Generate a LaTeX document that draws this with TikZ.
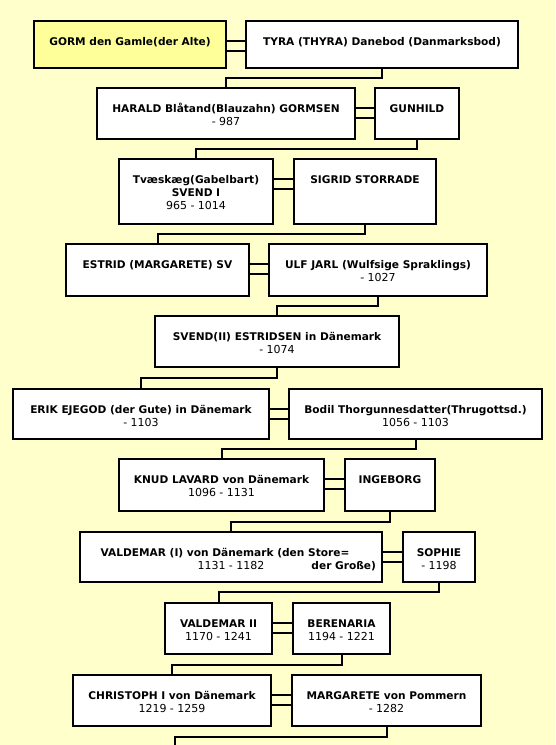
\documentclass[tikz,border=0pt]{standalone}
\usepackage{fontspec}
\setmainfont{DejaVu Sans}
\usetikzlibrary{positioning}
\definecolor{pagebg}{HTML}{FFFFCC}
\definecolor{rootfill}{HTML}{FFFF99}
\newcommand{\yrs}[1]{{\fontsize{11}{13}\selectfont\mdseries #1}}
\tikzset{
  person/.style 2 args={draw=black,line width=2pt,fill=white,align=center,
    inner xsep=2pt,inner ysep=0pt,text height=#1,text depth=#2,
    font=\fontsize{10.6}{13}\selectfont\bfseries},
  couple/.style={draw=black,line width=2pt,double=pagebg,double distance=8pt},
  descent/.style={draw=black,line width=2pt}
}

\begin{document}
\begin{tikzpicture}[x=1pt,y=-1pt,node distance=18pt]
\fill[pagebg] (0,0) rectangle (555,745);
\useasboundingbox (0,0) rectangle (555,745);
% generations, left partner placed by coordinates
\node[person={24pt}{23pt},fill=rootfill,minimum width=192pt,anchor=north west] (gorm) at (33,20) {GORM den Gamle(der Alte)};
\node[person={24pt}{23pt},minimum width=272pt,right=of gorm] (tyra) {TYRA (THYRA) Danebod (Danmarksbod)};
\node[person={37pt}{14pt},minimum width=258pt,anchor=north west] (harald) at (96,87) {HARALD Blåtand(Blauzahn) GORMSEN\\\yrs{- 987}};
\node[person={24pt}{27pt},minimum width=84pt,right=of harald] (gunhild) {GUNHILD};
\node[person={50pt}{15pt},minimum width=154pt,anchor=north west] (svend1) at (118,158) {Tvæskæg(Gabelbart)\\SVEND I\\\yrs{965 - 1014}};
\node[person={24pt}{41pt},minimum width=142pt,right=19pt of svend1] (sigrid) {SIGRID STORRADE};
\node[person={24pt}{28pt},minimum width=183pt,anchor=north west] (estrid) at (65,243) {ESTRID (MARGARETE) SV};
\node[person={37pt}{15pt},minimum width=218pt,right=of estrid] (ulf) {ULF JARL (Wulfsige Spraklings)\\\yrs{- 1027}};
\node[person={37pt}{14pt},minimum width=244pt,anchor=north west] (svend2) at (154,315) {SVEND(II) ESTRIDSEN in Dänemark\\\yrs{- 1074}};
\node[person={37pt}{13pt},minimum width=256pt,anchor=north west] (erik) at (12,388) {ERIK EJEGOD (der Gute) in Dänemark\\\yrs{- 1103}};
\node[person={37pt}{13pt},minimum width=253pt,right=of erik] (bodil) {Bodil Thorgunnesdatter(Thrugottsd.)\\\yrs{1056 - 1103}};
\node[person={37pt}{15pt},minimum width=205pt,anchor=north west] (knud) at (118,458) {KNUD LAVARD von Dänemark\\\yrs{1096 - 1131}};
\node[person={24pt}{28pt},minimum width=90pt,right=19pt of knud] (ingeborg) {INGEBORG};
\node[person={37pt}{13pt},minimum width=302pt,anchor=north west] (valdemar1) at (79,531) {VALDEMAR (I) von Dänemark (den Store=\hspace*{12pt}\\\yrs{1131 - 1182}\rlap{\hspace{47pt}der Große)}};
\node[person={37pt}{13pt},minimum width=72pt,right=19pt of valdemar1] (sophie) {SOPHIE\\\yrs{- 1198}};
\node[person={37pt}{14pt},minimum width=107pt,anchor=north west] (valdemar2) at (164,602) {VALDEMAR II\\\yrs{1170 - 1241}};
\node[person={37pt}{14pt},minimum width=97pt,right=19pt of valdemar2] (berenaria) {BERENARIA\\\yrs{1194 - 1221}};
\node[person={37pt}{14pt},minimum width=198pt,anchor=north west] (christoph) at (72,674) {CHRISTOPH I von Dänemark\\\yrs{1219 - 1259}};
\node[person={37pt}{14pt},minimum width=189pt,right=19pt of christoph] (margarete) {MARGARETE von Pommern\\\yrs{- 1282}};
\coordinate (next) at (175,760);
% marriages
\draw[couple] ([yshift=-26pt]gorm.north east) -- ([yshift=-26pt]tyra.north west);
\draw[couple] ([yshift=-26pt]harald.north east) -- ([yshift=-26pt]gunhild.north west);
\draw[couple] ([yshift=-26pt]svend1.north east) -- ([yshift=-26pt]sigrid.north west);
\draw[couple] ([yshift=-26pt]estrid.north east) -- ([yshift=-26pt]ulf.north west);
\draw[couple] ([yshift=-26pt]erik.north east) -- ([yshift=-26pt]bodil.north west);
\draw[couple] ([yshift=-26pt]knud.north east) -- ([yshift=-26pt]ingeborg.north west);
\draw[couple] ([yshift=-26pt]valdemar1.north east) -- ([yshift=-26pt]sophie.north west);
\draw[couple] ([yshift=-26pt]valdemar2.north east) -- ([yshift=-26pt]berenaria.north west);
\draw[couple] ([yshift=-26pt]christoph.north east) -- ([yshift=-26pt]margarete.north west);
% children
\draw[descent] (tyra.south) -- ++(0,9) -| (harald.north);
\draw[descent] (gunhild.south) -- ++(0,9) -| (svend1.north);
\draw[descent] (sigrid.south) -- ++(0,9) -| (estrid.north);
\draw[descent] (ulf.south) -- ++(0,9) -| (svend2.north);
\draw[descent] (svend2.south) -- ++(0,10) -| (erik.north);
\draw[descent] (bodil.south) -- ++(0,9) -| (knud.north);
\draw[descent] (ingeborg.south) -- ++(0,10) -| (valdemar1.north);
\draw[descent] (sophie.south) -- ++(0,9) -| (valdemar2.north);
\draw[descent] (berenaria.south) -- ++(0,10) -| (christoph.north);
\draw[descent] (margarete.south) -- ++(0,10) -| (next);
\end{tikzpicture}
\end{document}
